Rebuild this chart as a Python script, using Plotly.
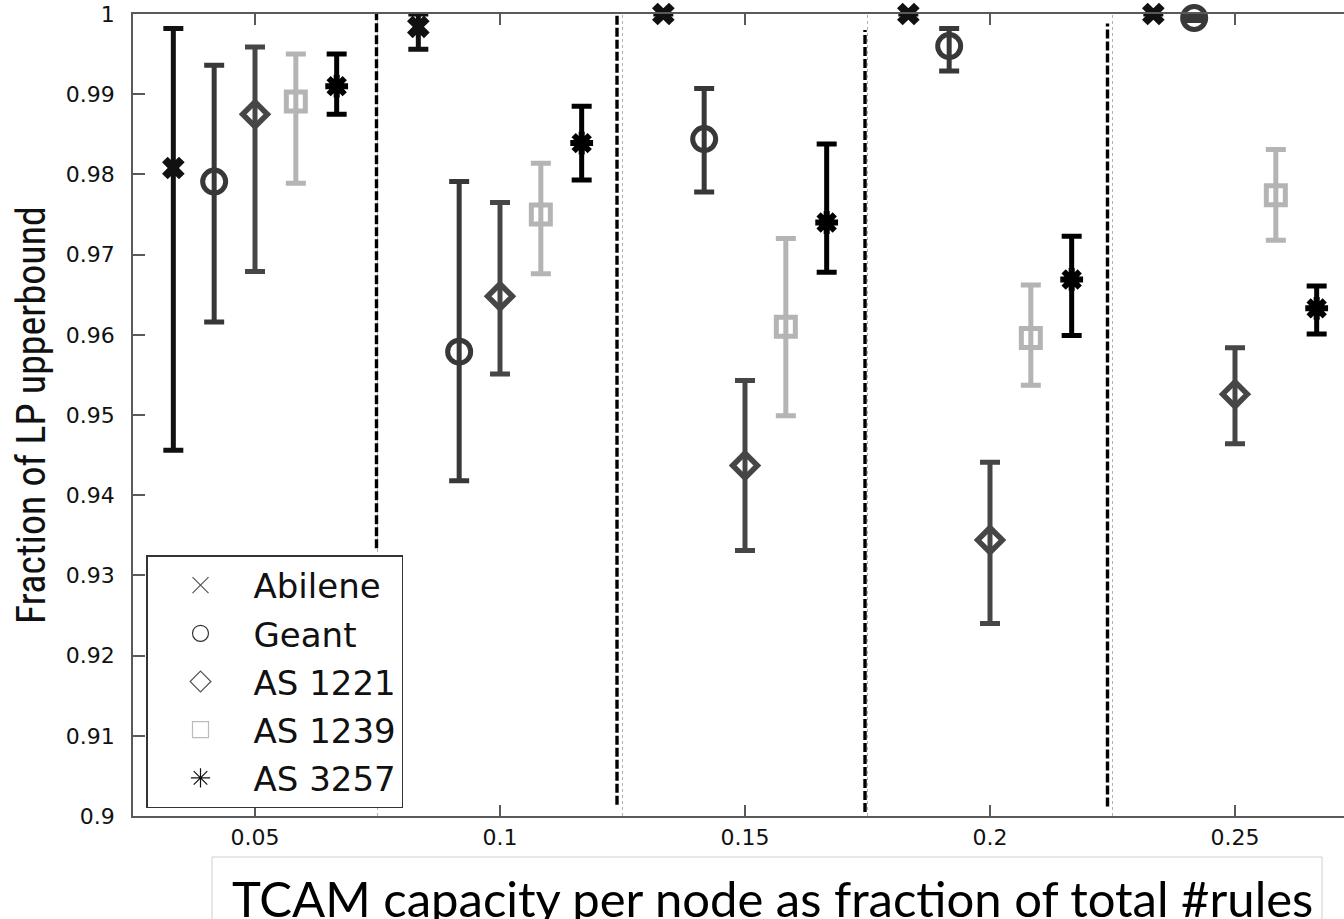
import plotly.graph_objects as go

# ---------------- data ----------------
categories = [0.05, 0.10, 0.15, 0.20, 0.25]
series_names = ["Abilene", "Geant", "AS 1221", "AS 1239", "AS 3257"]

abilene_mean = [0.9808, 0.9984, 1.0000, 1.0000, 1.0000]
abilene_hi   = [0.9982, 1.0000, 1.0000, 1.0000, 1.0000]
abilene_lo   = [0.9456, 0.9956, 1.0000, 1.0000, 1.0000]

geant_mean = [0.9791, 0.9579, 0.9844, 0.9960, 0.9995]
geant_hi   = [0.9936, 0.9791, 0.9907, 0.9982, 0.9998]
geant_lo   = [0.9616, 0.9418, 0.9778, 0.9929, 0.9992]

as1221_mean = [0.9875, 0.9648, 0.9437, 0.9344, 0.9526]
as1221_hi   = [0.9959, 0.9765, 0.9543, 0.9441, 0.9584]
as1221_lo   = [0.9679, 0.9551, 0.9331, 0.9240, 0.9464]

as1239_mean = [0.9891, 0.9750, 0.9610, 0.9596, 0.9774]
as1239_hi   = [0.9950, 0.9814, 0.9720, 0.9662, 0.9831]
as1239_lo   = [0.9789, 0.9676, 0.9499, 0.9537, 0.9718]

as3257_mean = [0.9910, 0.9839, 0.9740, 0.9669, 0.9633]
as3257_hi   = [0.9950, 0.9885, 0.9838, 0.9723, 0.9661]
as3257_lo   = [0.9875, 0.9793, 0.9678, 0.9599, 0.9601]

x_tick_vals = [0.05, 0.10, 0.15, 0.20, 0.25]
x_tick_text = ["0.05", "0.1", "0.15", "0.2", "0.25"]
y_tick_vals = [0.90, 0.91, 0.92, 0.93, 0.94, 0.95, 0.96, 0.97, 0.98, 0.99, 1.00]
y_tick_text = ["0.9", "0.91", "0.92", "0.93", "0.94", "0.95", "0.96", "0.97", "0.98", "0.99", "1"]

# ---------------- styling ----------------
W, H = 1344, 919
ML, MR, MT, MB = 133, 0, 14, 103
plot_w = W - ML - MR
plot_h = H - MT - MB
px_per_unit = 4900.0
x0 = 0.05 - (255 - ML) / px_per_unit
x_range = [x0, x0 + plot_w / px_per_unit]

dodge = [-1 / 60, -1 / 120, 0.0, 1 / 120, 1 / 60]
styles = [
    dict(symbol="x", size=20, color="#111111", lw=0, legend_symbol="x-thin-open", legend_color="#555555"),
    dict(symbol="circle-open", size=23, color="#383838", lw=5, legend_symbol="circle-open", legend_color="#333333"),
    dict(symbol="diamond-open", size=19, color="#464646", lw=5.5, legend_symbol="diamond-open", legend_color="#555555"),
    dict(symbol="square-open", size=19, color="#b4b4b4", lw=5, legend_symbol="square-open", legend_color="#bbbbbb"),
    dict(symbol="asterisk-open", size=19, color="#000000", lw=6, legend_symbol="asterisk-open", legend_color="#111111"),
]
means = [abilene_mean, geant_mean, as1221_mean, as1239_mean, as3257_mean]
his = [abilene_hi, geant_hi, as1221_hi, as1239_hi, as3257_hi]
los = [abilene_lo, geant_lo, as1221_lo, as1239_lo, as3257_lo]

fig = go.Figure()

def nz(v):
    return v if v > 1e-9 else None

for name, st, m, hi, lo, dx in zip(series_names, styles, means, his, los, dodge):
    xs = [c + dx for c in categories]
    plus = [nz(h - v) for h, v in zip(hi, m)]
    minus = [nz(v - l) for l, v in zip(lo, m)]
    fig.add_trace(go.Scatter(
        x=xs, y=m, mode="markers", name=name, showlegend=False,
        cliponaxis=False,
        marker=dict(symbol=st["symbol"], size=st["size"], color=st["color"],
                    line=dict(color=st["color"], width=st["lw"])),
        error_y=dict(type="data", symmetric=False, array=plus, arrayminus=minus,
                     color=st["color"], thickness=5, width=10),
    ))

# legend entries (thin symbols like the reference legend)
for i, (name, st) in enumerate(zip(series_names, styles)):
    fig.add_trace(go.Scatter(
        x=[None], y=[None], mode="markers", name=name, legendgroup=str(i),
        marker=dict(symbol=st["legend_symbol"], size=16, color=st["legend_color"],
                    line=dict(color=st["legend_color"], width=1.2)),
    ))

# separators between groups
shapes = []
bounds = [(categories[i] + categories[i + 1]) / 2 for i in range(len(categories) - 1)]
dash_offsets_px = [-1, -5.5, -2.5, -5]
dash_y_top = [1.0, 1.0, 0.9980, 0.9988]
dash_y_bot = [0.9334, 0.9014, 0.9005, 0.9012]
for b, off, yt, yb in zip(bounds, dash_offsets_px, dash_y_top, dash_y_bot):
    shapes.append(dict(type="line", xref="x", yref="y", x0=b, x1=b, y0=0.9, y1=1.0,
                       line=dict(color="#b0b0b0", width=1, dash="dot"), layer="below"))
    shapes.append(dict(type="line", xref="x", yref="y", xsizemode="pixel", xanchor=b,
                       x0=off, x1=off, y0=yb, y1=yt,
                       line=dict(color="#000000", width=3.4, dash="9px,3px"), layer="below"))

# x-title box
def px_x(p):
    return (p - ML) / plot_w

def px_y(p):
    return (H - MB - p) / plot_h

shapes.append(dict(type="rect", xref="paper", yref="paper",
                   x0=px_x(212), x1=px_x(1322), y0=px_y(857), y1=px_y(930),
                   line=dict(color="#cfcfcf", width=1), fillcolor="white"))

fig.update_layout(
    width=W, height=H,
    margin=dict(l=ML, r=MR, t=MT, b=MB, autoexpand=False),
    paper_bgcolor="white", plot_bgcolor="white",
    shapes=shapes,
    showlegend=True,
    legend=dict(x=px_x(146), y=px_y(555), xanchor="left", yanchor="top",
                bgcolor="white", bordercolor="#333333", borderwidth=1.5,
                font=dict(family="DejaVu Sans", size=34, color="#111111"),
                itemwidth=96, traceorder="grouped", tracegroupgap=1,
                itemclick=False),
    annotations=[dict(
        text="TCAM capacity per node as fraction of total #rules",
        xref="paper", yref="paper", x=px_x(230), y=px_y(898),
        xanchor="left", yanchor="middle", showarrow=False,
        font=dict(family="Lato", size=49, color="#000000"),
    )],
)

fig.update_xaxes(
    range=x_range, tickvals=x_tick_vals, ticktext=x_tick_text,
    showgrid=False, zeroline=False,
    showline=True, linecolor="#5a5a5a", linewidth=1.5, mirror="ticks",
    ticks="inside", ticklen=11, tickwidth=1.5, tickcolor="#5a5a5a",
    tickfont=dict(family="DejaVu Sans", size=22, color="#111111"),
    ticklabelstandoff=1,
)
fig.update_yaxes(
    range=[0.9, 1.0], tickvals=y_tick_vals, ticktext=y_tick_text,
    showgrid=False, zeroline=False,
    showline=True, linecolor="#5a5a5a", linewidth=1.5, mirror=False,
    ticks="inside", ticklen=12, tickwidth=1.5, tickcolor="#5a5a5a",
    tickfont=dict(family="DejaVu Sans", size=22, color="#111111"),
    ticklabelstandoff=12,
    title=dict(text="Fraction of LP upperbound", standoff=8,
               font=dict(family="Liberation Sans Narrow, Roboto Condensed, Liberation Sans", size=40, color="#111111")),
)

fig.write_html("out.html", config={"displayModeBar": False},
               post_script="document.body.style.margin='0px';")
